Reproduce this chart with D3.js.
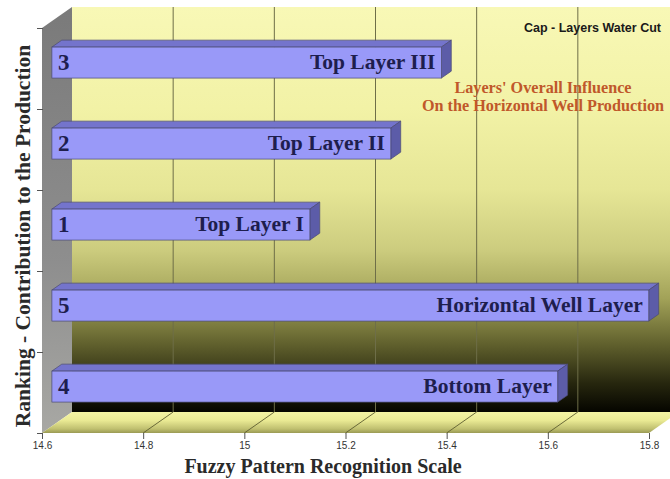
<!DOCTYPE html>
<html>
<head>
<meta charset="utf-8">
<script src="https://cdn.jsdelivr.net/npm/d3@7"></script>
<style>
  html, body { margin: 0; padding: 0; background: #ffffff; }
  svg { display: block; }
</style>
</head>
<body>
<svg id="chart" width="670" height="479"></svg>
<script>
// ---- data ----
const ranks = ["3", "2", "1", "5", "4"];
const layerNames = ["Top Layer III", "Top Layer II", "Top Layer I", "Horizontal Well Layer", "Bottom Layer"];
const values = [15.37, 15.27, 15.11, 15.78, 15.60];
const xTicks = [14.6, 14.8, 15, 15.2, 15.4, 15.6, 15.8];
const xDomain = [14.6, 15.8];
const chartTitle = "Cap - Layers Water Cut";
const subtitleLines = ["Layers' Overall Influence", "On the Horizontal Well Production"];
const xTitle = "Fuzzy Pattern Recognition Scale";
const yTitle = "Ranking - Contribution to the Production";

// ---- layout ----
const svg = d3.select("#chart");
const frontTop = 28, frontBottom = 433;
const depthX = 30, depthY = -21;

const x = d3.scaleLinear().domain(xDomain).range([42, 649]);
const y = d3.scaleBand().domain(d3.range(ranks.length)).range([frontTop, frontBottom]);
const yEdge = d3.scaleLinear().domain([0, ranks.length]).range([frontTop, frontBottom]);

const P = (v, yf, d) => [x(v) + d * depthX, yf + d * depthY];
const poly = pts => pts.map(p => p.join(",")).join(" ");

const defs = svg.append("defs");
const wallGrad = defs.append("linearGradient").attr("id", "wallGrad")
  .attr("x1", 0).attr("y1", 0).attr("x2", 0).attr("y2", 1);
[[0, "#f8f8b6"], [0.25, "#f2f2a6"], [0.45, "#e6e696"], [0.6, "#cccc7e"],
 [0.72, "#a2a258"], [0.83, "#62622e"], [0.93, "#26260e"], [1, "#050500"]]
  .forEach(([o, c]) => wallGrad.append("stop").attr("offset", o).attr("stop-color", c));

const sideGrad = defs.append("linearGradient").attr("id", "sideGrad")
  .attr("x1", 0).attr("y1", 0).attr("x2", 0).attr("y2", 1);
[[0, "#7a7a7a"], [0.6, "#8e8e8e"], [1, "#a8a8a4"]]
  .forEach(([o, c]) => sideGrad.append("stop").attr("offset", o).attr("stop-color", c));

const floorGrad = defs.append("linearGradient").attr("id", "floorGrad")
  .attr("x1", 0).attr("y1", 0).attr("x2", 0).attr("y2", 1);
[[0, "#f4f4a4"], [0.4, "#eaea94"], [0.8, "#c0c070"], [1, "#9a9a54"]]
  .forEach(([o, c]) => floorGrad.append("stop").attr("offset", o).attr("stop-color", c));

// back wall
svg.append("polygon")
  .attr("points", poly([P(xDomain[0], frontTop, 1), P(xDomain[1], frontTop, 1),
                        P(xDomain[1], frontBottom, 1), P(xDomain[0], frontBottom, 1)]))
  .attr("fill", "url(#wallGrad)");

// side wall
svg.append("polygon")
  .attr("points", poly([P(xDomain[0], frontTop, 0), P(xDomain[0], frontTop, 1),
                        P(xDomain[0], frontBottom, 1), P(xDomain[0], frontBottom, 0)]))
  .attr("fill", "url(#sideGrad)");

// back wall gridlines
svg.append("g").selectAll("line").data(xTicks.slice(1)).join("line")
  .attr("x1", d => P(d, frontTop, 1)[0]).attr("x2", d => P(d, frontBottom, 1)[0])
  .attr("y1", d => P(d, frontTop, 1)[1]).attr("y2", d => P(d, frontBottom, 1)[1])
  .attr("stroke", "#6e6e48").attr("stroke-width", 1);

// floor
svg.append("polygon")
  .attr("points", poly([P(xDomain[0], frontBottom, 0), P(xDomain[0], frontBottom, 1),
                        P(xDomain[1], frontBottom, 1), P(xDomain[1], frontBottom, 0)]))
  .attr("fill", "url(#floorGrad)");
svg.append("g").selectAll("line").data(xTicks.slice(1, -1)).join("line")
  .attr("x1", d => P(d, frontBottom, 0)[0]).attr("y1", d => P(d, frontBottom, 0)[1])
  .attr("x2", d => P(d, frontBottom, 1)[0]).attr("y2", d => P(d, frontBottom, 1)[1])
  .attr("stroke", "#5e5e30").attr("stroke-width", 0.9);

// bars
const d1 = 0.33, d2 = 0.66;
const barH = 31;
const bars = svg.append("g").selectAll("g").data(values.map((v, i) => ({v, i})))
  .join("g");
bars.each(function(d) {
  const g = d3.select(this);
  const yc = y(d.i) + y.bandwidth() / 2 + 1;
  const yt = yc - barH / 2, yb = yc + barH / 2;
  // top face
  g.append("polygon")
    .attr("points", poly([P(xDomain[0], yt, d1), P(d.v, yt, d1), P(d.v, yt, d2), P(xDomain[0], yt, d2)]))
    .attr("fill", "#7474cc").attr("stroke", "#4a4a72").attr("stroke-width", 0.7);
  // side face
  g.append("polygon")
    .attr("points", poly([P(d.v, yt, d1), P(d.v, yt, d2), P(d.v, yb, d2), P(d.v, yb, d1)]))
    .attr("fill", "#5c5ca8").attr("stroke", "#4a4a72").attr("stroke-width", 0.7);
  // front face
  const a = P(xDomain[0], yt, d1), b = P(d.v, yb, d1);
  g.append("rect")
    .attr("x", a[0]).attr("y", a[1]).attr("width", b[0] - a[0]).attr("height", b[1] - a[1])
    .attr("fill", "#9999f8").attr("stroke", "#4a4a72").attr("stroke-width", 0.7);
  // rank number
  g.append("text")
    .attr("x", a[0] + 6).attr("y", (a[1] + b[1]) / 2 + 7)
    .attr("font-family", "'Liberation Serif', 'DejaVu Serif', serif")
    .attr("font-weight", "bold").attr("font-size", 23)
    .attr("fill", "#1e1e4e").text(ranks[d.i]);
  // layer name
  g.append("text")
    .attr("x", b[0] - 6).attr("y", (a[1] + b[1]) / 2 + 6)
    .attr("text-anchor", "end")
    .attr("font-family", "'Liberation Serif', 'DejaVu Serif', serif")
    .attr("font-weight", "bold").attr("font-size", 21.5)
    .attr("fill", "#1e1e4e").text(layerNames[d.i]);
});

// x axis
const xAxis = svg.append("g").attr("transform", `translate(0,${frontBottom})`)
  .call(d3.axisBottom(x).tickValues(xTicks).tickSize(6).tickPadding(3).tickFormat(d => d));
xAxis.select(".domain").remove();
xAxis.selectAll(".tick line").attr("stroke", "#555");
xAxis.selectAll(".tick text").attr("font-family", "Arial, 'Liberation Sans', sans-serif")
  .attr("font-size", 10).attr("fill", "#333");

// y axis ticks (no labels)
const yAxis = svg.append("g").attr("transform", `translate(${x(xDomain[0]) + 1},0)`)
  .call(d3.axisLeft(yEdge).ticks(ranks.length).tickSize(6).tickFormat(""));
yAxis.select(".domain").remove();
yAxis.selectAll(".tick line").attr("stroke", "#555");

// titles
svg.append("text")
  .attr("x", 323).attr("y", 473).attr("text-anchor", "middle")
  .attr("font-family", "'Liberation Serif', 'DejaVu Serif', serif")
  .attr("font-weight", "bold").attr("font-size", 20).attr("fill", "#2a2a2a")
  .text(xTitle);

svg.append("text")
  .attr("transform", "translate(30,236) rotate(-90)").attr("text-anchor", "middle")
  .attr("font-family", "'Liberation Serif', 'DejaVu Serif', serif")
  .attr("font-weight", "bold").attr("font-size", 21.5).attr("fill", "#2a2a2a")
  .text(yTitle);

svg.append("text")
  .attr("x", 661).attr("y", 32).attr("text-anchor", "end")
  .attr("font-family", "Arial, 'Liberation Sans', sans-serif")
  .attr("font-weight", "bold").attr("font-size", 12.5).attr("fill", "#1a1a1a")
  .text(chartTitle);

svg.append("g").selectAll("text").data(subtitleLines).join("text")
  .attr("x", 543).attr("y", (d, i) => 93 + i * 18).attr("text-anchor", "middle")
  .attr("font-family", "'Liberation Serif', 'DejaVu Serif', serif")
  .attr("font-weight", "bold").attr("font-size", 16.2).attr("fill", "#c0582a")
  .text(d => d);
</script>
</body>
</html>
